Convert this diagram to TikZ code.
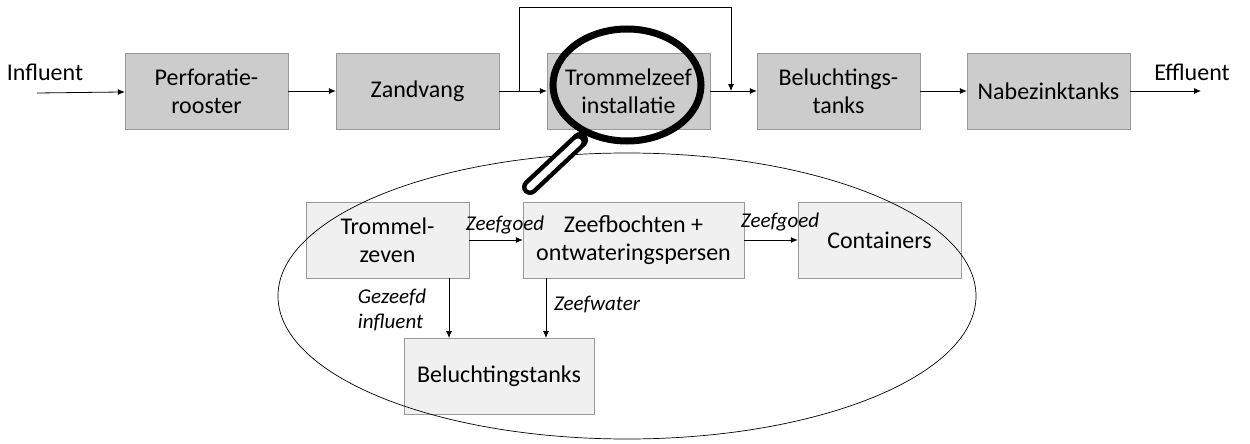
\documentclass[tikz,border=0pt]{standalone}
\usepackage{fontspec}
\setmainfont{Carlito}
\usetikzlibrary{arrows.meta}
\begin{document}
\begin{tikzpicture}[x=1pt,y=-1pt,
  top/.style={draw=gray!80,fill=black!20,minimum width=163pt,minimum height=76pt,align=center,inner sep=0pt},
  low/.style={draw=gray!80,fill=black!6,minimum height=76pt,align=center,inner sep=0pt},
  arr/.style={-{Latex[length=7pt,width=6pt]},line width=0.8pt},
  lab/.style={font=\fontsize{21}{25}\selectfont\itshape,align=left},
  every node/.append style={font=\fontsize{24}{28}\selectfont}]
\useasboundingbox (0,0) rectangle (1250,444);
\node[top] (p) at (206.5,91) {Perforatie-\\rooster};
\node[top] (z) at (417.5,91) {Zandvang};
\node[top] (t) at (628.5,91) {Trommelzeef\\installatie};
\node[top] (b) at (838.5,91) {Beluchtings-\\tanks};
\node[top] (n) at (1048.5,91) {Nabezinktanks};
\node (inf) at (45,72) {Influent};
\node (eff) at (1192,72) {Effluent};
\coordinate (is) at (37,93);
\coordinate (ee) at (1201,91);
\coordinate (bs) at (519,91);
\coordinate (be) at (731,91);
\draw[arr] (is) -- (p);
\draw[arr] (p) -- (z);
\draw[arr] (z) -- (t);
\draw[arr] (t) -- (b);
\draw[arr] (n) -- (ee);
\draw[arr] (b) -- (n);
\draw[arr] (bs) -- (519,7) -- (731,7) -- (be);
\node[low,minimum width=163pt] (tz) at (387.5,240) {Trommel-\\zeven};
\node[low,minimum width=221pt] (zb) at (633.5,240) {Zeefbochten +\\ontwateringspersen};
\node[low,minimum width=163pt] (c) at (879.5,240) {Containers};
\node[low,minimum width=190pt] (bl) at (499,376) {Beluchtingstanks};
\draw[line width=0.7pt] (627,296) ellipse [x radius=349, y radius=143];
\draw[arr] (tz) -- (zb);
\draw[arr] (zb) -- (c);
\draw[arr] (449,278) -- (449,338);
\draw[arr] (546,278) -- (546,338);
\node[lab] at (505,225) {Zeefgoed};
\node[lab] at (780,222) {Zeefgoed};
\node[lab] at (392,310) {Gezeefd\\influent};
\node[lab] at (597,305) {Zeefwater};
% magnifier
\draw[line width=16pt,line cap=round] (580,140) -- (530,187);
\draw[white,line width=7pt,line cap=round] (578,142) -- (530,187);
\draw[line width=7pt] (627,85) ellipse [x radius=74, y radius=56];
\end{tikzpicture}
\end{document}
